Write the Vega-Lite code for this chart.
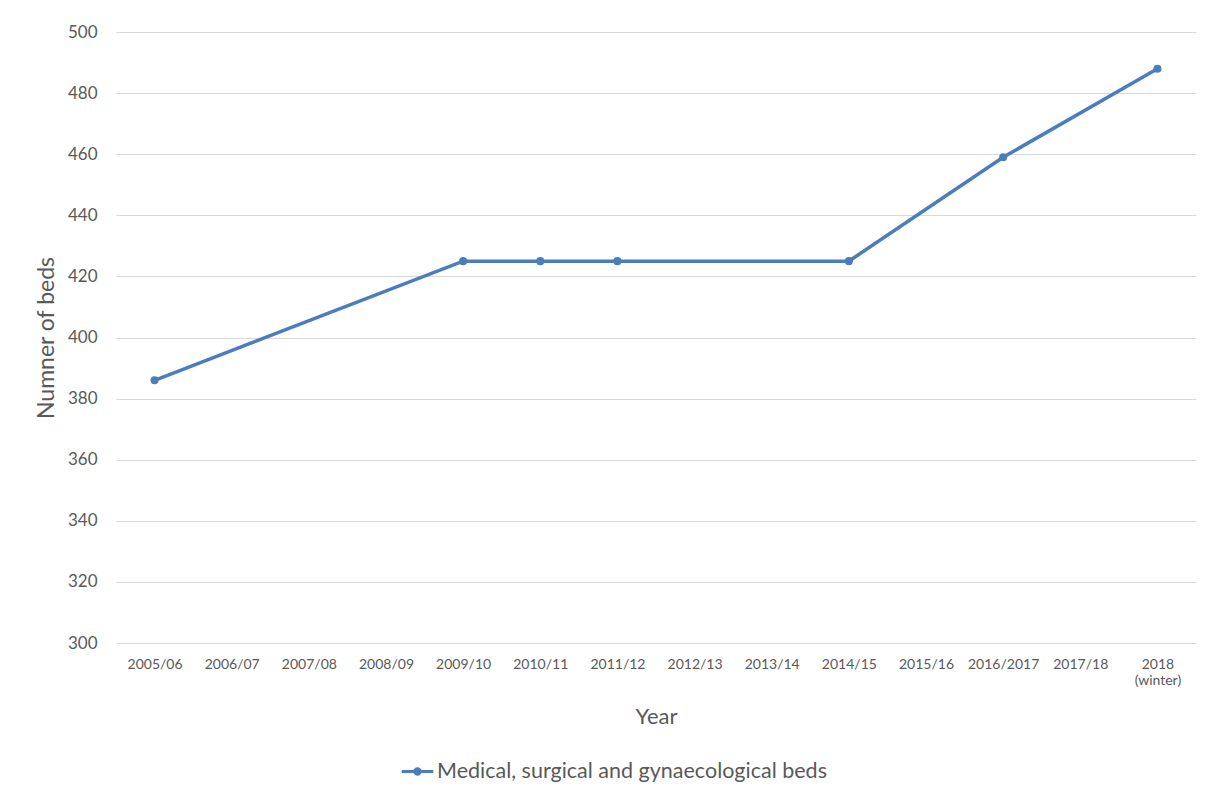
{
  "$schema": "https://vega.github.io/schema/vega-lite/v6.json",
  "width": 1080,
  "height": 611,
  "autosize": "none",
  "padding": {"left": 116, "top": 32, "right": 10, "bottom": 149},
  "background": "white",
  "config": {
    "view": {"stroke": null},
    "font": "Lato"
  },
  "data": {
    "values": [
      {"year": "2005/06", "beds": 386, "series": "Medical, surgical and gynaecological beds"},
      {"year": "2009/10", "beds": 425, "series": "Medical, surgical and gynaecological beds"},
      {"year": "2010/11", "beds": 425, "series": "Medical, surgical and gynaecological beds"},
      {"year": "2011/12", "beds": 425, "series": "Medical, surgical and gynaecological beds"},
      {"year": "2014/15", "beds": 425, "series": "Medical, surgical and gynaecological beds"},
      {"year": "2016/2017", "beds": 459, "series": "Medical, surgical and gynaecological beds"},
      {"year": "2018 (winter)", "beds": 488, "series": "Medical, surgical and gynaecological beds"}
    ]
  },
  "mark": {
    "type": "line",
    "strokeWidth": 3.5,
    "point": {"filled": true, "size": 65}
  },
  "encoding": {
    "x": {
      "field": "year",
      "type": "nominal",
      "sort": null,
      "scale": {
        "type": "point",
        "padding": 0.5,
        "domain": ["2005/06", "2006/07", "2007/08", "2008/09", "2009/10", "2010/11", "2011/12", "2012/13", "2013/14", "2014/15", "2015/16", "2016/2017", "2017/18", "2018 (winter)"]
      },
      "axis": {
        "title": "Year",
        "titleFontSize": 22,
        "titleFontWeight": "normal",
        "titleColor": "#595959",
        "titlePadding": 19,
        "labelAngle": 0,
        "labelFontSize": 14,
        "labelColor": "#595959",
        "labelPadding": 14,
        "labelExpr": "datum.value == '2018 (winter)' ? ['2018', '(winter)'] : datum.label",
        "ticks": false,
        "domain": false,
        "grid": false
      }
    },
    "y": {
      "field": "beds",
      "type": "quantitative",
      "scale": {"domain": [300, 500], "nice": false, "zero": false},
      "axis": {
        "title": "Numner of beds",
        "titleFontSize": 23,
        "titleFontWeight": "normal",
        "titleColor": "#595959",
        "titleX": -58,
        "labelFontSize": 17,
        "labelColor": "#595959",
        "labelPadding": 19,
        "values": [300, 320, 340, 360, 380, 400, 420, 440, 460, 480, 500],
        "ticks": false,
        "domain": false,
        "grid": true,
        "gridColor": "#d9d9d9",
        "gridWidth": 1
      }
    },
    "color": {
      "field": "series",
      "type": "nominal",
      "scale": {"range": ["#4a7ebb"]},
      "legend": {
        "title": null,
        "orient": "none",
        "legendX": 284,
        "legendY": 722,
        "labelFontSize": 21.5,
        "labelLimit": 0,
        "labelColor": "#595959",
        "labelOffset": 2,
        "symbolType": "M -1 0 L 1 0 M 0.17 0 A 0.17 0.17 0 1 1 -0.17 0 A 0.17 0.17 0 1 1 0.17 0 Z",
        "symbolSize": 1000,
        "symbolStrokeWidth": 3,
        "symbolFillColor": "#4a7ebb",
        "symbolStrokeColor": "#4a7ebb"
      }
    }
  }
}
